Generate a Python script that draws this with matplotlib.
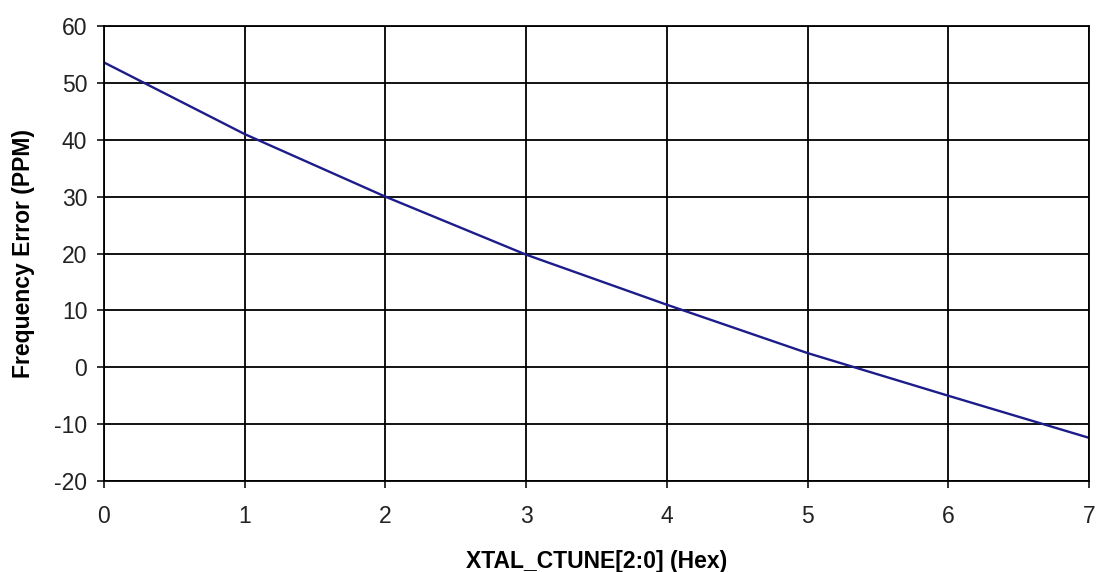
import numpy as np
from matplotlib import pyplot as plt

# XTAL_CTUNE setting vs measured frequency error
ctune = np.array([0, 1, 2, 3, 4, 5, 6, 7])
ppm_error = np.array([53.6, 41.0, 30.0, 19.8, 11.0, 2.5, -5.0, -12.4])

plt.rcParams['font.family'] = ['Liberation Sans', 'DejaVu Sans']
plt.rcParams['axes.unicode_minus'] = False

fig = plt.figure(figsize=(11, 5.72), dpi=100)
ax = fig.add_axes([0.0945, 0.159, 0.8955, 0.7955])

ax.plot(ctune, ppm_error, color='#1c1c8a', linewidth=1.7)

ax.set_xlim(0, 7)
ax.set_ylim(-20, 60)
ax.set_xticks(range(0, 8))
ax.set_yticks(range(-20, 61, 10))
ax.grid(True, color='black', linewidth=1.3)
for s in ax.spines.values():
    s.set_linewidth(1.3)
ax.tick_params(direction='out', length=5, width=1.3, labelsize=16.5, colors='#222222')
ax.tick_params(axis='x', pad=12)
ax.tick_params(axis='y', pad=7)

ax.set_xlabel('XTAL_CTUNE[2:0] (Hex)', fontweight='bold', fontsize=16.5, labelpad=16)
ax.set_ylabel('Frequency Error (PPM)', fontweight='bold', fontsize=16.5, labelpad=14)

fig.savefig('out.png', dpi=100)
